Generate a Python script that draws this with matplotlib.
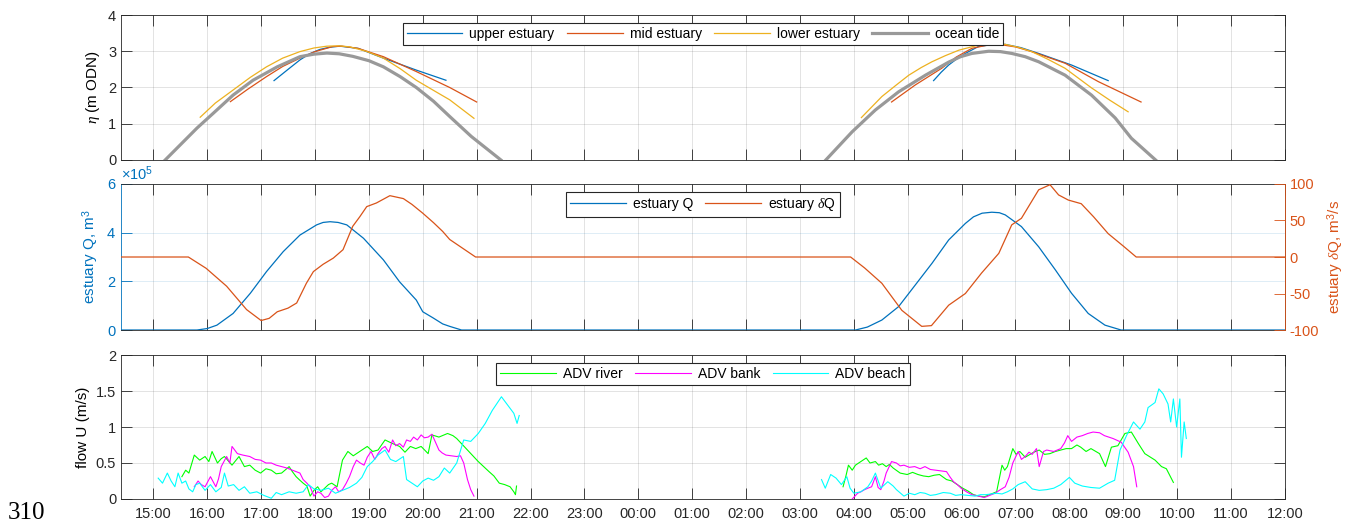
import numpy as np
import matplotlib
matplotlib.use('Agg')
import matplotlib.pyplot as plt
from matplotlib.ticker import ScalarFormatter

plt.rcParams['font.family'] = ['Liberation Sans', 'DejaVu Sans']
plt.rcParams['mathtext.fontset'] = 'custom'
plt.rcParams['mathtext.rm'] = 'Liberation Sans'
plt.rcParams['mathtext.it'] = 'Liberation Serif:italic'
plt.rcParams['font.size'] = 10.5
plt.rcParams['axes.unicode_minus'] = False

# time axis: hours after 15:00 on day 1
tick_hours = list(range(0, 22))
tick_labels = ['15:00', '16:00', '17:00', '18:00', '19:00', '20:00', '21:00', '22:00',
               '23:00', '00:00', '01:00', '02:00', '03:00', '04:00', '05:00', '06:00',
               '07:00', '08:00', '09:00', '10:00', '11:00', '12:00']
x_lim = (-0.6, 21.0)
nan = np.nan

# ---- panel 1: water level (m ODN) ----
t_upper = [2.24, 2.5, 2.72, 2.9, 3.09, 3.27, 3.46, 3.8, 4.27, 4.88, 5.43, nan,
           14.48, 14.62, 14.76, 14.92, 15.07, 15.31, 15.55, 15.81, 16.1, 16.43, 17.04, 17.72]
eta_upper = [2.19, 2.5, 2.76, 2.93, 3.05, 3.11, 3.14, 3.08, 2.81, 2.48, 2.2, nan,
             2.19, 2.42, 2.62, 2.8, 2.94, 3.13, 3.18, 3.19, 3.1, 2.94, 2.62, 2.19]
t_mid = [1.43, 1.75, 2.1, 2.4, 2.72, 3.0, 3.33, 3.5, 3.8, 4.27, 4.88, 5.5, 6.0, nan,
         13.7, 14.14, 14.63, 14.9, 15.19, 15.45, 15.69, 16.0, 16.3, 16.92, 17.54, 18.33]
eta_mid = [1.61, 1.95, 2.3, 2.58, 2.81, 2.99, 3.13, 3.14, 3.08, 2.85, 2.44, 2.0, 1.6, nan,
           1.6, 2.07, 2.53, 2.84, 3.08, 3.16, 3.19, 3.12, 2.99, 2.67, 2.16, 1.6]
t_lower = [0.87, 1.15, 1.48, 1.8, 2.1, 2.4, 2.72, 2.98, 3.22, 3.45, 3.65, 3.95, 4.27, 4.58,
           4.88, 5.2, 5.5, 5.95, nan,
           13.14, 13.52, 13.78, 14.02, 14.25, 14.45, 14.7, 14.95, 15.31, 15.55, 15.81, 16.05,
           16.3, 16.6, 16.92, 17.41, 17.75, 18.09]
eta_lower = [1.18, 1.57, 1.93, 2.28, 2.57, 2.81, 2.99, 3.09, 3.14, 3.15, 3.12, 3.0, 2.81, 2.52,
             2.2, 1.92, 1.66, 1.15, nan,
             1.17, 1.75, 2.06, 2.34, 2.55, 2.71, 2.88, 3.03, 3.17, 3.2, 3.19, 3.11,
             2.99, 2.78, 2.53, 1.99, 1.65, 1.33]
t_ocean = [0.22, 0.81, 1.12, 1.48, 1.85, 2.3, 2.72, 2.98, 3.22, 3.45, 3.7, 4.0, 4.27, 4.58,
           4.88, 5.2, 5.5, 5.9, 6.45, nan,
           12.48, 12.97, 13.4, 13.83, 14.33, 14.76, 14.98, 15.19, 15.5, 15.72, 15.93, 16.18,
           16.43, 16.92, 17.41, 17.85, 18.15, 18.6]
eta_ocean = [0.0, 0.88, 1.30, 1.79, 2.2, 2.57, 2.85, 2.92, 2.95, 2.93, 2.86, 2.74, 2.57, 2.3,
             2.0, 1.62, 1.2, 0.65, 0.0, nan,
             0.0, 0.78, 1.38, 1.88, 2.34, 2.7, 2.85, 2.94, 3.0, 2.99, 2.94, 2.85,
             2.71, 2.34, 1.79, 1.16, 0.6, 0.0]

# ---- panel 2: estuary volume and flow ----
t_Q = [-0.6, 0.81, 1.0, 1.18, 1.48, 1.8, 2.1, 2.41, 2.72, 3.03, 3.15, 3.28, 3.43, 3.59, 3.9,
       4.27, 4.57, 4.88, 5.0, 5.19, 5.37, 5.5, 5.72, 13.03, 13.25, 13.52, 13.83, 14.14, 14.45,
       14.76, 15.07, 15.22, 15.38, 15.56, 15.7, 15.81, 16.11, 16.43, 16.74, 17.04, 17.35,
       17.66, 17.96, 21.0]
Q = [0.0, 0.0, 0.06e5, 0.2e5, 0.68e5, 1.51e5, 2.4e5, 3.22e5, 3.9e5, 4.32e5, 4.42e5, 4.45e5,
     4.42e5, 4.32e5, 3.77e5, 2.88e5, 1.98e5, 1.23e5, 0.75e5, 0.5e5, 0.25e5, 0.15e5, 0.0,
     0.0, 0.12e5, 0.41e5, 0.96e5, 1.85e5, 2.74e5, 3.7e5, 4.38e5, 4.65e5, 4.8e5, 4.84e5,
     4.82e5, 4.73e5, 4.25e5, 3.42e5, 2.47e5, 1.51e5, 0.68e5, 0.2e5, 0.0, 0.0]
t_dQ = [-0.6, 0.65, 0.98, 1.36, 1.73, 2.0, 2.15, 2.3, 2.5, 2.66, 2.84, 2.97, 3.15, 3.34,
        3.52, 3.7, 3.83, 3.96, 4.14, 4.39, 4.64, 4.8, 5.0, 5.2, 5.37, 5.5, 5.74, 5.98,
        12.94, 13.2, 13.52, 13.89, 14.26, 14.44, 14.6, 14.76, 15.07, 15.37, 15.69, 15.93,
        16.11, 16.43, 16.64, 16.8, 16.98, 17.22, 17.45, 17.72, 18.0, 18.24, 21.0]
dQ = [0, 0, -15.5, -40, -72, -87, -84, -75, -70, -63, -36, -20, -10, -1.5,
      10, 42, 55, 69, 74, 84, 80, 72, 60, 47, 35, 24, 12, 0,
      0, -15, -36, -73, -95, -94, -80, -66, -50, -22, 5, 44,
      53, 92, 99, 85, 78, 73, 55, 32, 15, 0, 0]

# ---- panel 3: ADV flow speed (m/s) ----
t_river = [0.53, 0.60, 0.66, 0.76, 0.86, 0.96, 1.03, 1.09, 1.19, 1.26, 1.32, 1.46, 1.59, 1.69,
           1.79, 1.89, 1.99, 2.09, 2.19, 2.28, 2.38, 2.52, 2.58, 2.65, 2.72, 2.78, 2.85, 2.91,
           2.98, 3.05, 3.11, 3.18, 3.25, 3.31, 3.41, 3.51, 3.61, 3.71, 3.77, 3.87, 3.97, 4.07,
           4.17, 4.30, 4.44, 4.57, 4.67, 4.77, 4.87, 4.97, 5.10, 5.17, 5.30, 5.46, 5.56, 5.63,
           5.73, 5.83, 5.93, 6.03, 6.13, 6.23, 6.32, 6.42, 6.52, 6.62, 6.69, 6.72, 6.74, nan,
           12.80, 12.85, 12.90, 12.97, 13.03, 13.13, 13.23, 13.30, 13.40, 13.46, 13.53, 13.60,
           13.66, 13.73, 13.86, 13.99, 14.09, 14.19, 14.29, 14.39, 14.49, 14.59, 14.72, 14.82,
           14.92, 15.02, 15.12, 15.22, 15.32, 15.42, 15.52, 15.65, 15.75, 15.80, 15.85, 15.95,
           16.01, 16.08, 16.18, 16.25, 16.34, 16.44, 16.54, 16.64, 16.74, 16.84, 16.94, 17.04,
           17.14, 17.21, 17.31, 17.40, 17.56, 17.67, 17.78, 17.90, 18.03, 18.15, 18.28, 18.40,
           18.59, 18.71, 18.80, 18.93]
u_river = [0.31, 0.40, 0.36, 0.61, 0.54, 0.59, 0.52, 0.66, 0.50, 0.56, 0.59, 0.47, 0.59, 0.45,
           0.47, 0.40, 0.36, 0.42, 0.40, 0.35, 0.36, 0.45, 0.38, 0.31, 0.26, 0.22, 0.18, 0.04,
           0.12, 0.17, 0.10, 0.15, 0.20, 0.22, 0.17, 0.54, 0.66, 0.60, 0.63, 0.68, 0.73, 0.66,
           0.68, 0.82, 0.77, 0.73, 0.65, 0.73, 0.70, 0.73, 0.63, 0.89, 0.86, 0.91, 0.88, 0.84,
           0.76, 0.68, 0.60, 0.52, 0.45, 0.38, 0.32, 0.22, 0.20, 0.17, 0.10, 0.06, 0.18, nan,
           0.17, 0.31, 0.47, 0.40, 0.47, 0.52, 0.57, 0.50, 0.52, 0.47, 0.49, 0.45,
           0.48, 0.43, 0.36, 0.34, 0.37, 0.34, 0.32, 0.31, 0.33, 0.34, 0.27, 0.25,
           0.20, 0.15, 0.11, 0.06, 0.04, 0.03, 0.06, 0.10, 0.47, 0.40, 0.45, 0.70,
           0.62, 0.66, 0.58, 0.61, 0.65, 0.68, 0.62, 0.63, 0.66, 0.68, 0.70, 0.70,
           0.75, 0.72, 0.66, 0.70, 0.63, 0.45, 0.72, 0.74, 0.91, 0.93, 0.77, 0.63,
           0.54, 0.45, 0.42, 0.23]
t_bank = [0.76, 0.83, 0.89, 0.96, 1.06, 1.16, 1.21, 1.26, 1.36, 1.42, 1.46, 1.56, 1.66, 1.79,
          1.89, 1.99, 2.09, 2.19, 2.28, 2.38, 2.48, 2.58, 2.72, 2.78, 2.85, 2.91, 2.98, 3.05,
          3.11, 3.18, 3.25, 3.31, 3.38, 3.44, 3.51, 3.58, 3.64, 3.71, 3.77, 3.84, 3.91, 3.97,
          4.04, 4.11, 4.17, 4.24, 4.30, 4.37, 4.44, 4.50, 4.57, 4.64, 4.70, 4.77, 4.83, 4.90,
          4.97, 5.03, 5.10, 5.17, 5.23, 5.30, 5.36, 5.43, 5.53, 5.63, 5.70, 5.76, 5.83, 5.89,
          5.95, nan,
          12.97, 13.07, 13.13, 13.20, 13.26, 13.33, 13.40, 13.45, 13.50, 13.56, 13.60, 13.70,
          13.79, 13.86, 13.93, 14.03, 14.13, 14.23, 14.32, 14.42, 14.52, 14.62, 14.72, 14.79,
          14.85, 14.92, 14.99, 15.09, 15.19, 15.32, 15.42, 15.52, 15.62, 15.72, 15.81, 15.88,
          15.95, 16.05, 16.11, 16.18, 16.25, 16.31, 16.39, 16.44, 16.52, 16.58, 16.71, 16.84,
          16.91, 16.97, 17.04, 17.14, 17.24, 17.34, 17.44, 17.56, 17.65, 17.81, 17.96, 18.09,
          18.19, 18.25]
u_bank = [0.17, 0.25, 0.20, 0.17, 0.31, 0.17, 0.28, 0.45, 0.59, 0.50, 0.73, 0.63, 0.61, 0.59,
          0.55, 0.54, 0.50, 0.50, 0.47, 0.45, 0.43, 0.40, 0.36, 0.27, 0.22, 0.17, 0.04, 0.10,
          0.08, 0.02, 0.04, 0.12, 0.17, 0.10, 0.13, 0.22, 0.31, 0.45, 0.54, 0.50, 0.47, 0.58,
          0.66, 0.55, 0.63, 0.70, 0.73, 0.65, 0.82, 0.74, 0.77, 0.72, 0.82, 0.80, 0.86, 0.82,
          0.89, 0.85, 0.86, 0.90, 0.80, 0.68, 0.64, 0.61, 0.60, 0.59, 0.60, 0.50, 0.27, 0.13,
          0.04, nan,
          0.00, 0.08, 0.10, 0.13, 0.15, 0.17, 0.31, 0.16, 0.13, 0.25, 0.36, 0.52,
          0.50, 0.46, 0.47, 0.44, 0.45, 0.42, 0.45, 0.41, 0.40, 0.39, 0.38, 0.30,
          0.24, 0.20, 0.15, 0.10, 0.06, 0.04, 0.02, 0.05, 0.08, 0.13, 0.17, 0.30,
          0.50, 0.66, 0.55, 0.59, 0.65, 0.62, 0.70, 0.45, 0.66, 0.68, 0.66, 0.70,
          0.78, 0.88, 0.80, 0.86, 0.88, 0.91, 0.93, 0.92, 0.88, 0.84, 0.79, 0.65,
          0.45, 0.17]
t_beach = [0.09, 0.17, 0.26, 0.33, 0.40, 0.46, 0.53, 0.60, 0.66, 0.73, 0.79, 0.86, 0.96, 1.06,
           1.16, 1.26, 1.32, 1.39, 1.49, 1.59, 1.69, 1.79, 1.92, 2.05, 2.19, 2.28, 2.38, 2.52,
           2.65, 2.78, 2.88, 2.98, 3.11, 3.25, 3.38, 3.51, 3.64, 3.77, 3.87, 3.97, 4.07, 4.17,
           4.30, 4.40, 4.50, 4.64, 4.70, 4.80, 4.90, 5.00, 5.10, 5.20, 5.30, 5.40, 5.50, 5.63,
           5.76, 5.89, 6.03, 6.16, 6.29, 6.46, 6.56, 6.69, 6.75, 6.79, nan,
           12.40, 12.47, 12.57, 12.67, 12.77, 12.87, 12.93, 13.00, 13.13, 13.26, 13.33, 13.40,
           13.50, 13.63, 13.73, 13.79, 13.93, 14.03, 14.13, 14.23, 14.32, 14.42, 14.52, 14.66,
           14.79, 14.89, 14.99, 15.12, 15.25, 15.35, 15.45, 15.55, 15.65, 15.75, 15.85, 15.95,
           16.05, 16.18, 16.31, 16.44, 16.58, 16.71, 16.84, 17.00, 17.10, 17.24, 17.40, 17.56,
           17.72, 17.84, 17.94, 18.06, 18.19, 18.31, 18.40, 18.46, 18.59, 18.66, 18.74, 18.83,
           18.88, 18.93, 18.99, 19.05, 19.08, 19.13, 19.17]
u_beach = [0.29, 0.22, 0.36, 0.25, 0.17, 0.36, 0.22, 0.25, 0.14, 0.10, 0.20, 0.22, 0.12, 0.20,
           0.10, 0.16, 0.36, 0.18, 0.20, 0.12, 0.17, 0.08, 0.10, 0.05, 0.01, 0.09, 0.06, 0.10,
           0.08, 0.10, 0.20, 0.14, 0.12, 0.15, 0.08, 0.12, 0.16, 0.22, 0.30, 0.45, 0.52, 0.61,
           0.68, 0.55, 0.52, 0.59, 0.27, 0.22, 0.17, 0.25, 0.29, 0.26, 0.31, 0.43, 0.36, 0.50,
           0.82, 0.80, 0.91, 1.05, 1.23, 1.42, 1.32, 1.19, 1.05, 1.16, nan,
           0.27, 0.15, 0.34, 0.29, 0.20, 0.31, 0.15, 0.08, 0.10, 0.17, 0.25, 0.36,
           0.15, 0.24, 0.18, 0.13, 0.04, 0.08, 0.06, 0.09, 0.08, 0.05, 0.06, 0.09,
           0.08, 0.05, 0.06, 0.05, 0.04, 0.06, 0.06, 0.07, 0.08, 0.07, 0.10, 0.14,
           0.20, 0.24, 0.14, 0.12, 0.13, 0.15, 0.20, 0.30, 0.22, 0.18, 0.16, 0.15,
           0.22, 0.26, 0.68, 0.88, 1.07, 0.97, 1.07, 1.27, 1.34, 1.53, 1.46, 1.32,
           1.07, 1.39, 1.00, 1.39, 0.58, 1.07, 0.84]

BLUE = '#0072BD'
ORANGE = '#D95319'
YELLOW = '#EDB120'
GRAY = '#999999'
AX = '#262626'


def style_axes(ax, right=True):
    for s in ax.spines.values():
        s.set_color(AX)
        s.set_linewidth(0.6)
    ax.tick_params(direction='in', length=8, width=0.6, top=True, right=right,
                   colors=AX, labelcolor=AX)
    ax.set_xlim(x_lim)
    ax.set_xticks(tick_hours)
    ax.grid(True, color=AX, alpha=0.15, linewidth=0.6)


def add_legend(ax, handles, labels, ncol):
    leg = ax.legend(handles, labels, loc='upper center', ncol=ncol, fancybox=False,
                    framealpha=1, edgecolor=AX, handlelength=4.0, borderpad=0.3,
                    columnspacing=0.9, handletextpad=0.5, borderaxespad=0.55, fontsize=10)
    leg.get_frame().set_linewidth(0.8)
    return leg


def main():
    fig = plt.figure(figsize=(13.49, 5.23), dpi=100)
    left, width = 0.0897, 0.8628
    ax1 = fig.add_axes([left, 0.6941, width, 0.2772])
    ax2 = fig.add_axes([left, 0.3690, width, 0.2792])
    ax3 = fig.add_axes([left, 0.0459, width, 0.2753])

    # panel 1
    style_axes(ax1)
    h1, = ax1.plot(t_upper, eta_upper, color=BLUE, lw=0.9)
    h2, = ax1.plot(t_mid, eta_mid, color=ORANGE, lw=0.9)
    h3, = ax1.plot(t_lower, eta_lower, color=YELLOW, lw=0.9)
    h4, = ax1.plot(t_ocean, eta_ocean, color=GRAY, lw=2.3)
    ax1.set_ylim(0, 4)
    ax1.set_yticks([0, 1, 2, 3, 4])
    ax1.set_xticklabels([])
    ax1.set_ylabel(r'$\eta$ (m ODN)', fontsize=11)
    add_legend(ax1, [h1, h2, h3, h4],
               ['upper estuary', 'mid estuary', 'lower estuary', 'ocean tide'], 4)

    # panel 2
    style_axes(ax2, right=False)
    ax2.grid(False, axis='y')
    ax2.yaxis.grid(True, color=BLUE, alpha=0.15, linewidth=0.6)
    hq, = ax2.plot(t_Q, Q, color=BLUE, lw=0.9)
    ax2.set_ylim(0, 6e5)
    ax2.set_yticks([0, 2e5, 4e5, 6e5])
    fmt = ScalarFormatter(useMathText=True)
    fmt.set_powerlimits((0, 0))
    ax2.yaxis.set_major_formatter(fmt)
    ax2.yaxis.get_offset_text().set_color(BLUE)
    ax2.yaxis.get_offset_text().set_fontsize(10.5)
    ax2.tick_params(axis='y', colors=BLUE, labelcolor=BLUE)
    ax2.spines['left'].set_color(BLUE)
    ax2.set_xticklabels([])
    ax2.set_ylabel('estuary Q, m$^3$', color=BLUE, fontsize=11)

    ax2r = ax2.twinx()
    ax2r.set_xlim(x_lim)
    hd, = ax2r.plot(t_dQ, dQ, color=ORANGE, lw=0.9)
    ax2r.set_ylim(-100, 100)
    ax2r.set_yticks([-100, -50, 0, 50, 100])
    ax2r.tick_params(axis='y', direction='in', length=8, width=0.6, colors=ORANGE,
                     labelcolor=ORANGE)
    for s in ax2r.spines.values():
        s.set_visible(False)
    ax2r.spines['right'].set_visible(True)
    ax2r.spines['right'].set_color(ORANGE)
    ax2r.spines['right'].set_linewidth(0.6)
    ax2r.set_ylabel(r'estuary $\delta$Q, m$^3$/s', color=ORANGE, fontsize=11)
    add_legend(ax2r, [hq, hd], ['estuary Q', r'estuary $\delta$Q'], 2)

    # panel 3
    style_axes(ax3)
    r1, = ax3.plot(t_river, u_river, color='#00FF00', lw=0.8)
    r2, = ax3.plot(t_bank, u_bank, color='#FF00FF', lw=0.8)
    r3, = ax3.plot(t_beach, u_beach, color='#00FFFF', lw=0.8)
    ax3.set_ylim(0, 2)
    ax3.set_yticks([0, 0.5, 1, 1.5, 2])
    ax3.set_yticklabels(['0', '0.5', '1', '1.5', '2'])
    ax3.set_xticklabels(tick_labels)
    ax3.tick_params(axis='x', pad=6)
    ax3.set_ylabel('flow U (m/s)', fontsize=11)
    add_legend(ax3, [r1, r2, r3], ['ADV river', 'ADV bank', 'ADV beach'], 3)

    fig.text(0.006, 0.008, '310', family='Liberation Serif', fontsize=18, va='baseline')

    fig.savefig('out.png', dpi=100)


if __name__ == '__main__':
    main()
